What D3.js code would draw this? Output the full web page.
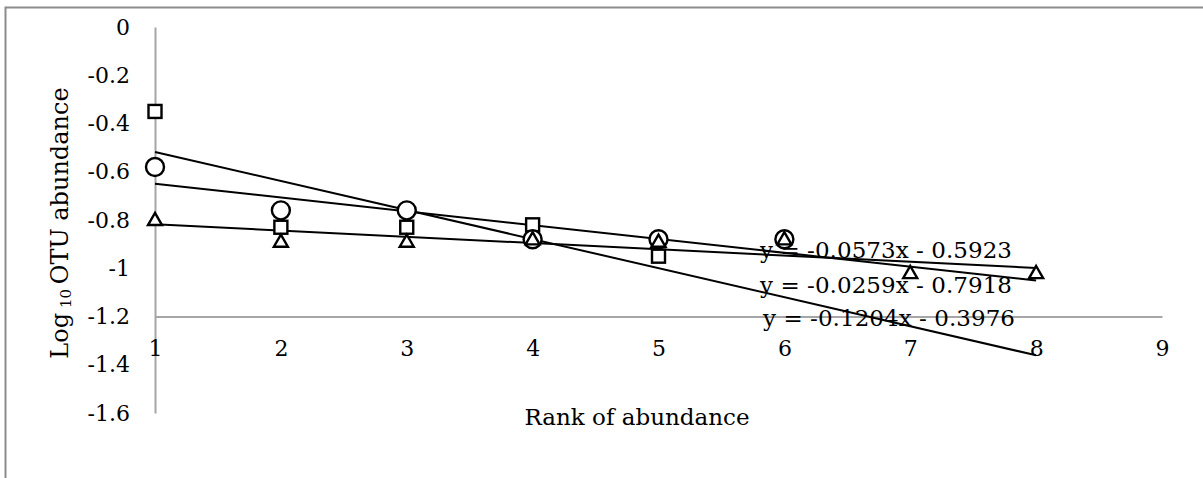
<!DOCTYPE html>
<html>
<head>
<meta charset="utf-8">
<script src="https://cdn.jsdelivr.net/npm/d3@7"></script>
<style>
body { margin: 0; background: #fff; }
text { font-family: "DejaVu Serif", Georgia, serif; fill: #000; }
</style>
</head>
<body>
<script>
var w = 1203;
var h = 478;

// data
var ranks = [1, 2, 3, 4, 5, 6, 7, 8];
var squareVals = [-0.35, -0.83, -0.83, -0.82, -0.95];
var circleVals = [-0.58, -0.76, -0.76, -0.88, -0.88, -0.88];
var triangleVals = [-0.80, -0.89, -0.89, -0.88, -0.89, -0.88, -1.02, -1.02];
var xTicks = [1, 2, 3, 4, 5, 6, 7, 8, 9];
var yTicks = [0, -0.2, -0.4, -0.6, -0.8, -1, -1.2, -1.4, -1.6];
var yTickLabels = ['0', '-0.2', '-0.4', '-0.6', '-0.8', '-1', '-1.2', '-1.4', '-1.6'];
var trendSlopes = [-0.0573, -0.0259, -0.1204];
var trendIntercepts = [-0.5923, -0.7918, -0.3976];
var trendLabels = ['y = -0.0573x - 0.5923', 'y = -0.0259x - 0.7918', 'y = -0.1204x - 0.3976'];

var x = d3.scaleLinear().domain([1, 9]).range([155, 1162]);
var y = d3.scaleLinear().domain([0, -1.6]).range([27, 413]);

var svg = d3.select('body')
.append('svg')
.attr('width', w)
.attr('height', h);

// outer frame (only left/top visible)
svg.append('path')
.attr('d', 'M5.5,' + h + 'V7.5H' + w)
.attr('fill', 'none')
.attr('stroke', '#8c8c8c')
.attr('stroke-width', 2);

// y axis
svg.append('g')
.attr('transform', 'translate(' + x(1) + ',0)')
.call(d3.axisLeft(y)
    .tickValues(yTicks)
    .tickSize(0)
    .tickPadding(25)
    .tickFormat(function(d, i) { return yTickLabels[i]; }));

// x axis crosses at -1.2
svg.append('g')
.attr('transform', 'translate(0,' + y(-1.2) + ')')
.call(d3.axisBottom(x)
    .tickValues(xTicks)
    .tickSize(0)
    .tickPadding(24));

svg.selectAll('.domain')
.attr('stroke', '#a6a6a6')
.attr('stroke-width', 2);
svg.selectAll('.tick text')
.attr('font-size', 22)
.attr('font-family', '"DejaVu Serif", serif');

// trend lines
var trendData = trendSlopes.map(function(s, i) {
    return { m: s, b: trendIntercepts[i], label: trendLabels[i] };
});
svg.selectAll('line.trend')
.data(trendData)
.enter()
.append('line')
.attr('class', 'trend')
.attr('x1', x(1))
.attr('x2', x(8))
.attr('y1', function(d) { return y(d.m * 1 + d.b); })
.attr('y2', function(d) { return y(d.m * 8 + d.b); })
.attr('stroke', '#000')
.attr('stroke-width', 2);

// markers
svg.selectAll('rect.sq')
.data(squareVals)
.enter()
.append('rect')
.attr('class', 'sq')
.attr('x', function(d, i) { return x(ranks[i]) - 6.5; })
.attr('y', function(d) { return y(d) - 6.5; })
.attr('width', 13)
.attr('height', 13)
.attr('fill', '#fff')
.attr('stroke', '#000')
.attr('stroke-width', 2.4);

svg.selectAll('circle.ci')
.data(circleVals)
.enter()
.append('circle')
.attr('class', 'ci')
.attr('cx', function(d, i) { return x(ranks[i]); })
.attr('cy', function(d) { return y(d); })
.attr('r', 9)
.attr('fill', '#fff')
.attr('stroke', '#000')
.attr('stroke-width', 2.4);

var tri = d3.symbol().type(d3.symbolTriangle).size(85);
svg.selectAll('path.tr')
.data(triangleVals)
.enter()
.append('path')
.attr('class', 'tr')
.attr('d', tri)
.attr('transform', function(d, i) { return 'translate(' + x(ranks[i]) + ',' + (y(d) + 1) + ')'; })
.attr('fill', '#fff')
.attr('stroke', '#000')
.attr('stroke-width', 2.4);

// equation labels
svg.selectAll('text.eq')
.data(trendData)
.enter()
.append('text')
.attr('class', 'eq')
.attr('x', function(d, i) { return i == 2 ? 763 : 760; })
.attr('y', function(d, i) { return [258, 293, 326][i]; })
.attr('textLength', 252)
.style('font-size', '23px')
.text(function(d) { return d.label; });

// axis titles
svg.append('text')
.attr('x', 637)
.attr('y', 425)
.attr('text-anchor', 'middle')
.style('font-size', '23px')
.text('Rank of abundance');

var yt = svg.append('text')
.attr('transform', 'translate(68,223)rotate(-90)')
.attr('text-anchor', 'middle')
.style('font-size', '24px');
yt.append('tspan').text('Log');
yt.append('tspan').attr('dy', 3).style('font-size', '15px').text(' 10 ');
yt.append('tspan').attr('dy', -3).text('OTU abundance');
</script>
</body>
</html>
